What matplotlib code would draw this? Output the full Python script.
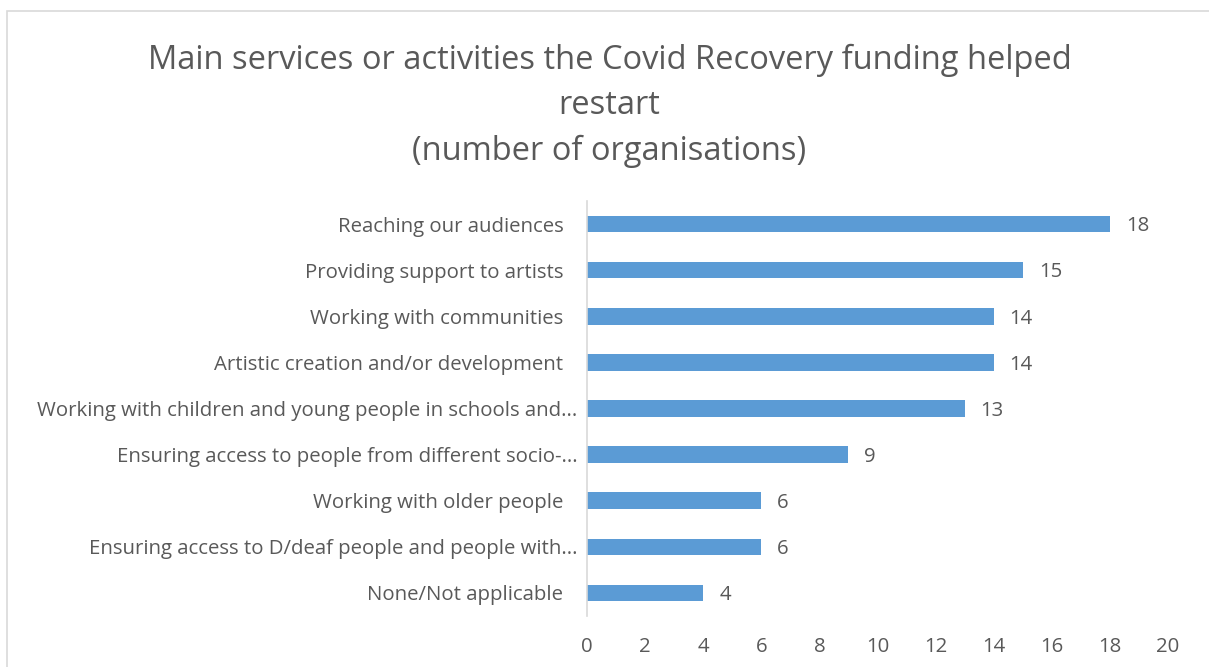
import matplotlib.pyplot as plt
from matplotlib.patches import Rectangle
from matplotlib.transforms import ScaledTranslation

categories = [
    "Reaching our audiences",
    "Providing support to artists",
    "Working with communities",
    "Artistic creation and/or development",
    "Working with children and young people in schools and...",
    "Ensuring access to people from different socio-...",
    "Working with older people",
    "Ensuring access to D/deaf people and people with...",
    "None/Not applicable",
]
counts = [18, 15, 14, 14, 13, 9, 6, 6, 4]
x_ticks = list(range(0, 21, 2))

text_color = "#595959"
bar_color = "#5B9BD5"

plt.rcParams["font.family"] = ["Open Sans", "DejaVu Sans"]

W, H = 1209, 667
fig = plt.figure(figsize=(W / 100, H / 100), dpi=100)
fig.patch.set_facecolor("white")

# chart border (goes past right and bottom edges)
fig.add_artist(Rectangle((7 / W, -0.1), 1.2, 1 - 11 / H + 0.1, transform=fig.transFigure,
                         fill=False, edgecolor="#D9D9D9", linewidth=1.2))

ax = fig.add_axes([587 / W, 1 - 616 / H, (1168 - 587) / W, (616 - 201) / H])
y = list(range(len(categories)))
ax.barh(y, counts, height=0.36, color=bar_color)
ax.set_ylim(len(categories) - 0.5, -0.5)
ax.set_xlim(0, 20)
ax.set_yticks(y)
ax.set_yticklabels(categories, fontsize=14.7, color=text_color)
ax.set_xticks(x_ticks)
ax.set_xticklabels([str(t) for t in x_ticks], fontsize=14.7, color=text_color)
ax.tick_params(axis="both", length=0)
ax.tick_params(axis="y", pad=17)
ax.tick_params(axis="x", pad=15)
for s in ["top", "right", "bottom"]:
    ax.spines[s].set_visible(False)
ax.spines["left"].set_color("#D9D9D9")
ax.spines["left"].set_linewidth(1.2)

# truncated labels sit a bit closer to the axis, like in Excel
for lab in ax.get_yticklabels():
    if lab.get_text().endswith("..."):
        lab.set_transform(lab.get_transform() + ScaledTranslation(14 / 100, 0, fig.dpi_scale_trans))

for yi, v in zip(y, counts):
    ax.text(v + 0.55, yi + 0.05, str(v), va="center", ha="left", fontsize=14.7, color=text_color)

fig.text(0.5 * (147 + 1072) / W, 1 - 44 / H,
         "Main services or activities the Covid Recovery funding helped\nrestart\n(number of organisations)",
         ha="center", va="top", fontsize=23.5, color=text_color, linespacing=1.49)

fig.savefig("out.png", dpi=100)
